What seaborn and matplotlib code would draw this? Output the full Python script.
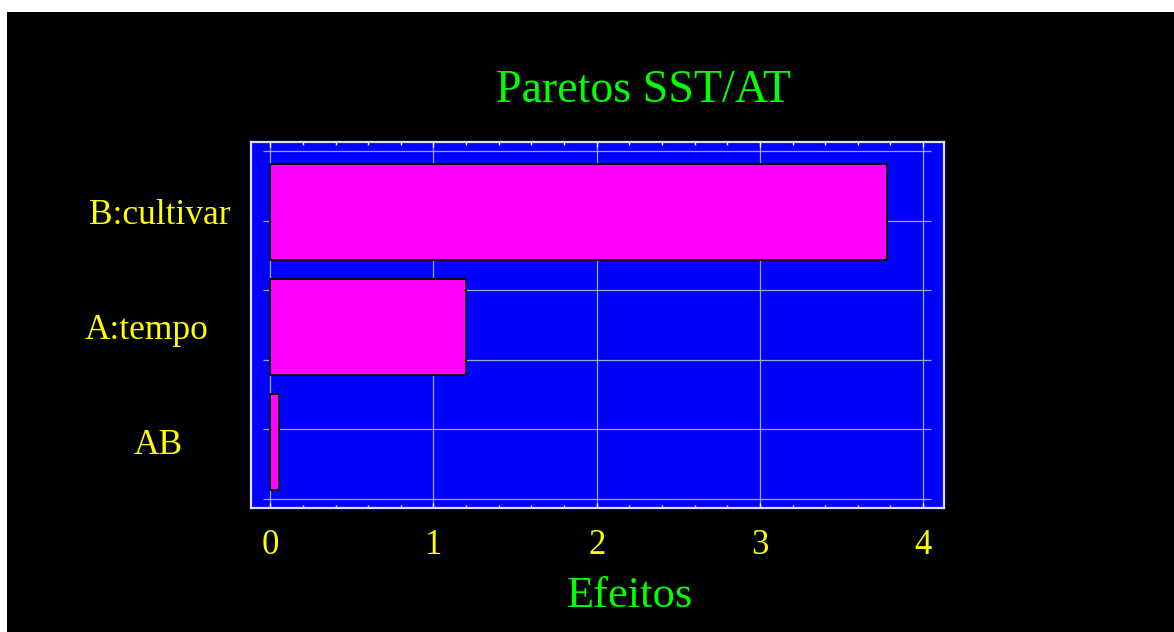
import matplotlib
matplotlib.use('Agg')
import matplotlib.pyplot as plt
import matplotlib.transforms as mtransforms
from matplotlib.patches import Rectangle
from matplotlib.ticker import MultipleLocator
import numpy as np
import seaborn as sns

# Data
factors = ['B:cultivar', 'A:tempo', 'AB']
effects = [3.78, 1.20, 0.053]
x_ticks = [0, 1, 2, 3, 4]

sns.set_style('dark')
plt.rcParams['font.family'] = ['Liberation Serif', 'DejaVu Serif']

fig = plt.figure(figsize=(11.74, 6.32), dpi=100, facecolor='white')
# black panel with thin white margin on top and left, like the screenshot
fig.patches.append(Rectangle((7 / 1174, 0), 1, 620 / 632, transform=fig.transFigure,
                             facecolor='black', edgecolor='none', zorder=-10))

ax = fig.add_axes([251 / 1174, 124 / 632, 693 / 1174, 366 / 632])
ax.set_facecolor('#0000ff')

sns.barplot(x=effects, y=factors, orient='h', color='#ff00ff', saturation=1,
            width=0.835, edgecolor='black', linewidth=1.3, ax=ax, zorder=3)

ax.set_xlim(-0.118, 4.128)
ax.set_ylim(2.576, -0.609)

# grid
ax.set_axisbelow(True)
ax.xaxis.grid(True, color='#a4a4cc', linewidth=0.9)
ax.yaxis.grid(False)
grid_y = np.linspace(-0.528, 2.497, 6)
ax.hlines(grid_y, -0.045, 4.047, colors='#a4a4cc', linewidth=0.9, zorder=1)

for sp in ax.spines.values():
    sp.set_visible(True)
    sp.set_color('#dcdcff')
    sp.set_linewidth(1.6)

ax.set_xticks(x_ticks)
ax.xaxis.set_minor_locator(MultipleLocator(0.2))
ax.tick_params(axis='x', which='both', direction='in', top=True, bottom=True,
               colors='white', labelcolor='#ffff00', labelsize=25, pad=15)
ax.tick_params(axis='x', which='major', length=3.8, width=1)
ax.tick_params(axis='x', which='minor', length=2.2, width=1)

ax.set_yticks(range(len(factors)))
ax.set_yticklabels(factors)
ax.tick_params(axis='y', length=0, labelcolor='#ffff00', labelsize=25.5, pad=69)
# the original labels are centred but not quite on one line
nudge_pt = [3, -6, 2]
for lbl, dx in zip(ax.get_yticklabels(), nudge_pt):
    lbl.set_ha('center')
    lbl.set_transform(lbl.get_transform() +
                      mtransforms.ScaledTranslation(dx / 72, 0, fig.dpi_scale_trans))
ax.set_ylabel('')

ax.set_title('Paretos SST/AT', color='#00ff00', fontsize=33, x=0.566, y=1.109,
             va='baseline', pad=0)
ax.set_xlabel('Efeitos', color='#00ff00', fontsize=32, va='baseline')
ax.xaxis.set_label_coords(0.547, -0.2705)

fig.savefig('out.png', dpi=100, facecolor=fig.get_facecolor())
